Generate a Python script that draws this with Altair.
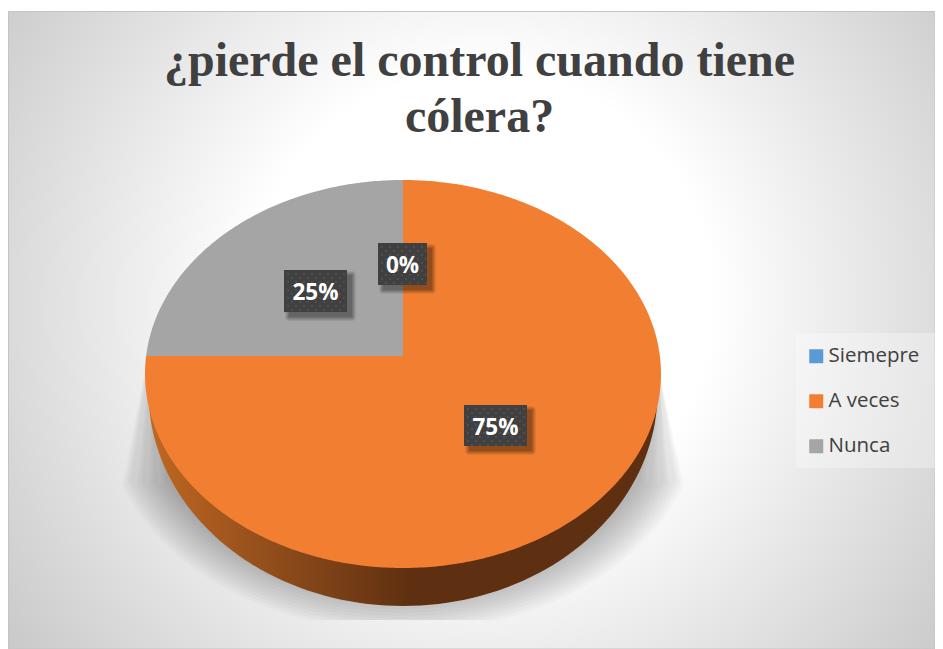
import math
import altair as alt
import pandas as pd

# ---- chart values ----
title_lines = ["¿pierde el control cuando tiene", "cólera?"]
categories = ["Siemepre", "A veces", "Nunca"]
shares = [0, 75, 25]
labels = ["0%", "75%", "25%"]
colors = ["#5b9bd5", "#f27f31", "#a5a5a5"]

# ---- drawing frame: pixels of the picture are used as the data space ----
W, H = 927, 641
XDOM = [8, 935]
YDOM = [649, 8]
CX, VY = 403, 356          # apex of the tilted pie
ECY, RX, RY = 374, 258, 194  # outline of the tilted pie
X = alt.X("x:Q", axis=None, scale=alt.Scale(domain=XDOM, nice=False, zero=False))
Y = alt.Y("y:Q", axis=None, scale=alt.Scale(domain=YDOM, nice=False, zero=False))


def rim(phi):
    """Where a ray from the apex at angle phi meets the tilted outline."""
    dx, dy = math.sin(phi), -math.cos(phi)
    oy = VY - ECY
    a = dx * dx / RX ** 2 + dy * dy / RY ** 2
    b = 2 * oy * dy / RY ** 2
    c = oy * oy / RY ** 2 - 1
    t = (-b + math.sqrt(b * b - 4 * a * c)) / (2 * a)
    return CX + t * dx, VY + t * dy


def poly(points):
    return pd.DataFrame([{"x": p[0], "y": p[1], "i": n} for n, p in enumerate(points)])


def shape(points, **mark):
    return alt.Chart(poly(points)).mark_line(strokeWidth=0, **mark).encode(
        x=X, y=Y, order=alt.Order("i:Q")
    )


# sectors of the pie, from the shares
rows = []
start = 0.0
for cat, share in zip(categories, shares):
    if share > 0:
        n = 0
        rows.append({"cat": cat, "x": CX, "y": VY, "i": n})
        steps = max(2, int(share * 4))
        for s in range(steps + 1):
            phi = 2 * math.pi * (start + share * s / steps) / 100
            px, py = rim(phi)
            n += 1
            rows.append({"cat": cat, "x": px, "y": py, "i": n})
    start += share
sector_df = pd.DataFrame(rows)

sectors = alt.Chart(sector_df).mark_line(strokeWidth=0, interpolate="linear").encode(
    x=X,
    y=Y,
    order=alt.Order("i:Q"),
    fill=alt.Fill(
        "cat:N",
        scale=alt.Scale(domain=categories, range=colors),
        sort=categories,
        legend=alt.Legend(
            title=None,
            orient="none",
            legendX=789,
            legendY=329,
            padding=9,
            symbolType="square",
            symbolSize=196,
            symbolStrokeWidth=0,
            labelFont="Open Sans",
            labelFontSize=20.5,
            labelColor="#404040",
            labelOffset=2,
            rowPadding=24,
        ),
    ),
)

# page background
bg = alt.Chart(pd.DataFrame([{"x": 8.5, "x2": 935, "y": 11.5, "y2": 649}])).mark_rect(
    fill=alt.RadialGradient(
        gradient="radial",
        x1=0.51, y1=0.47, r1=0.0,
        x2=0.51, y2=0.47, r2=0.78,
        stops=[
            alt.GradientStop(offset=0.0, color="#ffffff"),
            alt.GradientStop(offset=0.32, color="#ffffff"),
            alt.GradientStop(offset=1.0, color="#b4b4b4"),
        ],
    ),
    stroke="#c4c4c4",
    strokeWidth=1,
).encode(x=X, x2="x2:Q", y=Y, y2="y2:Q")

legend_bg = alt.Chart(pd.DataFrame([{"x": 796, "x2": 935, "y": 333, "y2": 468}])).mark_rect(
    fill="#ffffff", opacity=0.3
).encode(x=X, x2="x2:Q", y=Y, y2="y2:Q")

# soft shadow under the pie, built from stacked translucent outlines
shadows = []
for k in range(4, 29, 2):
    cy, rx, ry = 393 + k * 0.6, RX + k * 1.45, 194 + k
    pts = [(152, 335)]
    for d in range(-90, 91, 2):
        a = math.radians(d)
        px, py = CX + rx * math.sin(a), cy + ry * math.cos(a)
        if py >= 480:
            pts.append((px, min(py, 620)))
    pts.append((659, 370))
    shadows.append(shape(pts, fill="#000000", opacity=0.025))

# side wall of the disc
wall_pts = []
for d in range(-90, 91, 2):
    a = math.radians(d)
    px, py = CX + 254.5 * math.sin(a), 392 + 214 * math.cos(a)
    if py >= 405:
        wall_pts.append((px, py))
wall = shape(
    wall_pts,
    fill=alt.LinearGradient(
        gradient="linear",
        x1=0, y1=0, x2=1, y2=0,
        stops=[
            alt.GradientStop(offset=0.0, color="#bf6822"),
            alt.GradientStop(offset=0.25, color="#8f4c1b"),
            alt.GradientStop(offset=0.52, color="#5e2f10"),
            alt.GradientStop(offset=1.0, color="#5e2f10"),
        ],
    ),
)

# data label boxes: left, right, top, bottom and text
boxes = [
    ("0%", 378, 427, 243, 285),
    ("75%", 464, 527, 405, 446),
    ("25%", 284, 347, 270, 312),
]
box_layers = []
for e, op in [(4, 0.07), (3, 0.08), (2, 0.09), (1, 0.1), (0, 0.12)]:
    df = pd.DataFrame(
        [{"x": b[1] + 5 - e, "x2": b[2] + 5 + e, "y": b[3] + 5 - e, "y2": b[4] + 5 + e} for b in boxes]
    )
    box_layers.append(
        alt.Chart(df).mark_rect(fill="#000000", opacity=op, cornerRadius=e).encode(
            x=X, x2="x2:Q", y=Y, y2="y2:Q"
        )
    )
box_df = pd.DataFrame([{"x": b[1], "x2": b[2], "y": b[3], "y2": b[4]} for b in boxes])
box_rect = alt.Chart(box_df).mark_rect(fill="#404040").encode(x=X, x2="x2:Q", y=Y, y2="y2:Q")

dots = []
for b in boxes:
    row = 0
    yy = b[3] + 4
    while yy < b[4]:
        xx = b[1] + (4 if row % 2 == 0 else 8)
        while xx < b[2]:
            dots.append({"x": xx, "y": yy})
            xx += 8
        yy += 4
        row += 1
dot_layer = alt.Chart(pd.DataFrame(dots)).mark_square(size=4, color="#535353", opacity=0.8).encode(x=X, y=Y)

label_df = pd.DataFrame(
    [{"x": (b[1] + b[2]) / 2, "y": (b[3] + b[4]) / 2, "t": b[0]} for b in boxes]
)
label_layer = alt.Chart(label_df).mark_text(
    font="Open Sans", fontSize=22.5, fontWeight="bold", color="#ffffff", baseline="middle", dy=2
).encode(x=X, y=Y, text="t:N")

chart = alt.layer(
    bg, legend_bg, *shadows, wall, sectors, *box_layers, box_rect, dot_layer, label_layer
).properties(
    width=W,
    height=H,
    padding=0,
    autosize=alt.AutoSizeParams(type="none"),
    title=alt.TitleParams(
        text=title_lines,
        font="Liberation Serif",
        fontSize=48,
        fontWeight="bold",
        color="#404040",
        anchor="middle",
        frame="group",
        lineHeight=56,
        dx=8,
        dy=138,
    ),
).configure_view(stroke=None)

chart.save("out.html", embed_options={"renderer": "svg", "actions": False})
